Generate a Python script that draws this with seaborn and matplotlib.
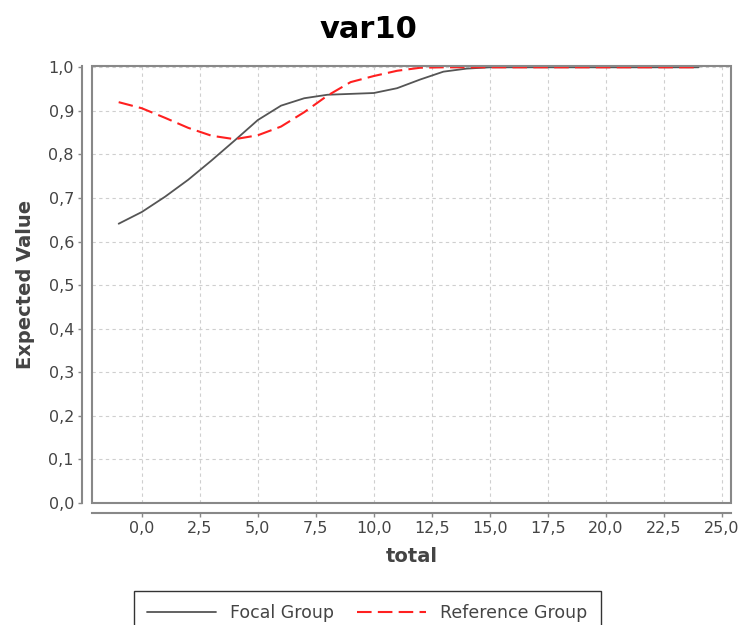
import matplotlib
matplotlib.use("Agg")
import matplotlib.pyplot as plt
from matplotlib.patches import Rectangle
from matplotlib.lines import Line2D
import seaborn as sns
import pandas as pd

# ---- data ----
totals = list(range(-1, 25))
focal = [0.641, 0.668, 0.703, 0.742, 0.786, 0.832, 0.879, 0.912, 0.929, 0.937,
         0.939, 0.941, 0.952, 0.972, 0.990, 0.997, 1.0, 1.0, 1.0, 1.0,
         1.0, 1.0, 1.0, 1.0, 1.0, 1.0]
reference = [0.920, 0.906, 0.884, 0.861, 0.843, 0.835, 0.844, 0.864, 0.897, 0.935,
             0.966, 0.980, 0.992, 0.999, 1.0, 1.0, 1.0, 1.0, 1.0, 1.0,
             1.0, 1.0, 1.0, 1.0, 1.0, 1.0]
series_names = ["Focal Group", "Reference Group"]
x_ticks = [0.0, 2.5, 5.0, 7.5, 10.0, 12.5, 15.0, 17.5, 20.0, 22.5, 25.0]
x_tick_labels = ["0,0", "2,5", "5,0", "7,5", "10,0", "12,5", "15,0", "17,5", "20,0", "22,5", "25,0"]
y_ticks = [0.0, 0.1, 0.2, 0.3, 0.4, 0.5, 0.6, 0.7, 0.8, 0.9, 1.0]
y_tick_labels = ["0,0", "0,1", "0,2", "0,3", "0,4", "0,5", "0,6", "0,7", "0,8", "0,9", "1,0"]
title = "var10"
x_label = "total"
y_label = "Expected Value"

df = pd.DataFrame({
    "total": totals * 2,
    "value": focal + reference,
    "group": [series_names[0]] * len(totals) + [series_names[1]] * len(totals),
})

sns.set_theme(style="white")
plt.rcParams["font.family"] = ["DejaVu Sans"]

focal_color = "#555555"
ref_color = "#ff2020"
ref_dash = (7, 3)

fig = plt.figure(figsize=(7.45, 6.25), dpi=100)
ax = fig.add_axes([92 / 745, 122 / 625, (731 - 92) / 745, (503 - 66) / 625])

sns.lineplot(
    data=df, x="total", y="value", hue="group", style="group",
    palette={series_names[0]: focal_color, series_names[1]: ref_color},
    dashes={series_names[0]: "", series_names[1]: ref_dash},
    ax=ax, legend=False, linewidth=1.4, estimator=None,
)
for ln, lw in zip(ax.lines, [1.3, 1.5]):
    ln.set_linewidth(lw)

ax.set_xlim(-2.15, 25.4)
ax.set_ylim(0.0, 1.003)
ax.set_xticks(x_ticks)
ax.set_xticklabels(x_tick_labels)
ax.set_yticks(y_ticks)
ax.set_yticklabels(y_tick_labels)

ax.grid(True, color="#cfcfcf", linestyle=(0, (3, 3)), linewidth=0.8)
ax.set_axisbelow(True)

gray = "#888888"
for side in ["top", "right"]:
    ax.spines[side].set_visible(False)
for side in ["left", "bottom"]:
    ax.spines[side].set_position(("outward", 7))
    ax.spines[side].set_color(gray)
    ax.spines[side].set_linewidth(1.5)
ax.add_patch(Rectangle((0, 0), 1, 1, transform=ax.transAxes, fill=False,
                       edgecolor=gray, linewidth=1.5, clip_on=False, zorder=5))

ax.tick_params(axis="both", which="major", direction="out", length=3, width=1,
               color=gray, labelsize=11.5, labelcolor="#444444", pad=3,
               bottom=True, left=True)

ax.set_xlabel(x_label, fontsize=14, fontweight="bold", color="#444444", labelpad=8)
ax.set_ylabel(y_label, fontsize=14, fontweight="bold", color="#444444", labelpad=10)

fig.text(0.495, 0.952, title, ha="center", va="center", fontsize=22, fontweight="bold", color="black")

handles = [Line2D([0], [0], color=focal_color, lw=1.3),
           Line2D([0], [0], color=ref_color, lw=1.5, dashes=ref_dash)]
leg = fig.legend(handles, series_names, loc="upper center", bbox_to_anchor=(0.493, 34 / 625),
                 ncol=2, frameon=True, fancybox=False, fontsize=12.5, handlelength=4.0,
                 columnspacing=1.3, handletextpad=0.8, borderpad=0.75, borderaxespad=0)
leg.get_frame().set_edgecolor("black")
leg.get_frame().set_linewidth(1.0)
for t in leg.get_texts():
    t.set_color("#444444")

fig.savefig("out.png", dpi=100)
